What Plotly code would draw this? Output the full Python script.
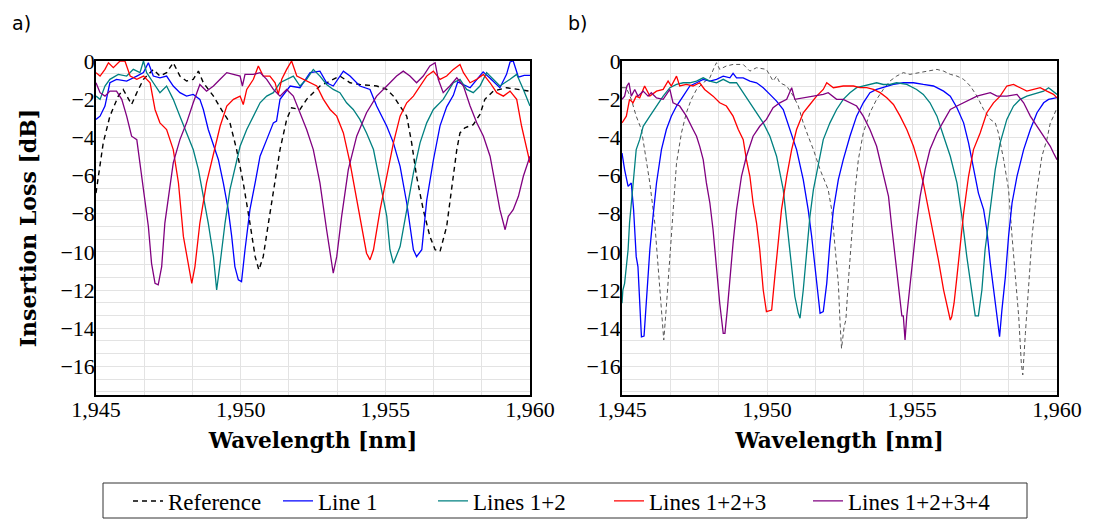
import plotly.graph_objects as go

# ---------------- Panel a) ----------------
a_ref_wl = [1945.00,1945.25,1945.48,1945.77,1945.94,1946.23,1946.41,1946.64,1946.98,1947.21,1947.44,1947.67,1947.90,1948.13,1948.36,1948.54,1948.71,1949.06,1949.40,1949.63,1949.86,1950.09,1950.32,1950.50,1950.63,1950.78,1950.96,1951.13,1951.36,1951.59,1951.76,1952.05,1952.28,1952.51,1952.74,1952.97,1953.43,1953.78,1954.12,1954.70,1955.05,1955.28,1955.51,1955.74,1955.91,1956.08,1956.31,1956.54,1956.72,1956.89,1957.12,1957.29,1957.47,1957.58,1957.75,1958.04,1958.27,1958.44,1958.73,1959.19,1959.54,1960.00]
a_ref_il = [-6.92,-4.29,-2.89,-1.84,-1.49,-2.28,-1.66,-0.96,-0.44,-0.79,-0.61,-0.09,-0.79,-1.05,-0.96,-0.53,-1.14,-1.84,-2.71,-3.24,-4.64,-6.39,-8.49,-10.25,-10.95,-10.25,-8.49,-6.74,-4.64,-3.06,-2.45,-2.54,-2.01,-1.66,-1.31,-1.14,-0.79,-1.14,-1.23,-1.31,-1.49,-1.84,-2.36,-2.89,-4.29,-6.04,-7.79,-9.19,-9.89,-9.98,-8.67,-6.74,-4.64,-3.77,-3.50,-3.33,-2.80,-2.01,-1.58,-1.40,-1.49,-1.58]

a_l1_wl = [1945.00,1945.14,1945.31,1945.48,1945.71,1946.06,1946.41,1946.64,1946.81,1946.98,1947.21,1947.44,1947.67,1947.90,1948.13,1948.36,1948.59,1948.71,1948.88,1949.06,1949.23,1949.40,1949.57,1949.69,1949.80,1949.92,1950.03,1950.15,1950.32,1950.50,1950.67,1950.90,1951.13,1951.24,1951.30,1951.36,1951.71,1952.05,1952.40,1952.74,1952.97,1953.20,1953.55,1953.78,1954.12,1954.47,1954.70,1955.05,1955.28,1955.51,1955.74,1955.97,1956.08,1956.26,1956.43,1956.66,1956.89,1957.12,1957.35,1957.50,1957.93,1958.38,1958.62,1958.96,1959.19,1959.31,1959.42,1959.60,1959.80,1960.00]
a_l1_il = [-3.06,-2.89,-2.36,-1.14,-0.96,-1.05,-0.79,-0.61,-0.09,-0.79,-0.88,-0.79,-1.31,-1.66,-1.84,-1.75,-2.01,-2.54,-3.59,-4.47,-5.17,-6.39,-7.79,-9.19,-10.77,-11.47,-11.56,-9.89,-7.79,-6.39,-4.99,-4.12,-3.24,-3.15,-2.54,-2.01,-1.31,-1.40,-0.61,-0.53,-1.14,-1.31,-0.53,-0.79,-1.31,-1.49,-2.36,-3.42,-4.29,-5.52,-7.44,-9.89,-10.25,-9.89,-7.30,-5.20,-3.40,-2.40,-1.80,-1.10,-1.40,-0.57,-0.90,-1.40,-0.70,-0.05,0.00,-0.85,-0.75,-0.75]

a_l12_wl = [1945.00,1945.14,1945.31,1945.48,1945.77,1946.06,1946.29,1946.52,1946.64,1946.75,1946.98,1947.21,1947.44,1947.67,1947.90,1948.13,1948.36,1948.54,1948.71,1948.88,1949.06,1949.17,1949.29,1949.46,1949.63,1949.80,1949.98,1950.21,1950.44,1950.67,1950.90,1951.13,1951.36,1951.59,1951.82,1952.05,1952.28,1952.51,1952.74,1952.97,1953.20,1953.43,1953.66,1953.89,1954.12,1954.35,1954.59,1954.82,1955.05,1955.16,1955.28,1955.51,1955.74,1955.97,1956.20,1956.43,1956.66,1957.00,1957.35,1957.58,1957.81,1958.04,1958.27,1958.50,1958.73,1958.96,1959.31,1959.54,1959.77,1960.00]
a_l12_il = [-1.84,-2.01,-1.31,-0.96,-0.70,-0.79,-0.44,-0.61,0.00,-0.61,-1.14,-1.66,-1.31,-2.01,-2.89,-3.77,-4.64,-5.69,-7.09,-8.49,-10.25,-12.00,-10.60,-8.49,-6.74,-5.69,-4.47,-3.59,-2.89,-2.19,-1.84,-1.66,-1.14,-0.96,-0.79,-1.31,-0.96,-0.44,-0.79,-1.23,-1.49,-1.66,-2.19,-2.54,-3.06,-3.77,-4.64,-6.39,-8.14,-9.89,-10.60,-9.72,-7.79,-5.87,-4.29,-3.24,-2.54,-2.01,-1.14,-0.96,-1.49,-1.66,-1.31,-0.61,-0.96,-1.31,-0.96,-0.70,-1.49,-2.36]

a_l123_wl = [1945.00,1945.14,1945.31,1945.43,1945.60,1945.83,1946.00,1946.18,1946.41,1946.64,1946.87,1947.04,1947.21,1947.44,1947.67,1947.85,1948.02,1948.19,1948.31,1948.42,1948.59,1948.82,1949.06,1949.29,1949.52,1949.75,1949.98,1950.09,1950.21,1950.44,1950.61,1950.78,1951.01,1951.19,1951.30,1951.42,1951.59,1951.76,1951.94,1952.17,1952.40,1952.63,1952.86,1953.09,1953.32,1953.55,1953.78,1954.01,1954.18,1954.35,1954.47,1954.59,1954.82,1955.05,1955.28,1955.51,1955.74,1955.97,1956.20,1956.43,1956.66,1956.89,1957.12,1957.35,1957.58,1957.70,1957.93,1958.16,1958.39,1958.62,1958.85,1959.08,1959.31,1959.54,1959.71,1959.88,1960.00]
a_l123_il = [-0.61,-0.79,-0.44,-0.09,-0.35,0.00,0.00,-0.79,-0.96,-0.79,-1.14,-2.54,-3.24,-3.59,-4.64,-6.39,-9.19,-10.60,-11.65,-10.77,-8.49,-6.39,-4.82,-3.42,-2.36,-2.01,-1.84,-2.28,-1.49,-0.96,-0.26,-0.79,-0.79,-1.14,-1.75,-0.96,-0.44,0.00,-0.79,-0.96,-1.14,-1.31,-2.01,-2.54,-2.89,-3.77,-5.34,-7.27,-8.67,-10.07,-10.42,-9.89,-7.79,-6.04,-4.29,-2.89,-2.19,-1.84,-1.31,-0.79,-0.53,-0.96,-0.79,-0.44,-0.18,-0.61,-1.14,-0.96,-0.70,-1.14,-1.66,-1.84,-1.58,-2.01,-3.42,-4.47,-5.34]

a_l1234_wl = [1945.00,1945.14,1945.31,1945.48,1945.71,1945.89,1946.06,1946.23,1946.41,1946.52,1946.64,1946.81,1946.92,1947.04,1947.15,1947.27,1947.38,1947.50,1947.67,1947.90,1948.13,1948.36,1948.59,1948.82,1949.06,1949.29,1949.52,1949.75,1949.98,1950.06,1950.15,1950.44,1950.67,1950.90,1951.13,1951.36,1951.59,1951.82,1952.05,1952.28,1952.51,1952.74,1952.97,1953.15,1953.20,1953.32,1953.49,1953.72,1954.01,1954.35,1954.70,1955.05,1955.39,1955.62,1955.85,1956.08,1956.31,1956.54,1956.72,1956.83,1957.00,1957.23,1957.47,1957.70,1957.93,1958.16,1958.39,1958.62,1958.79,1958.96,1959.14,1959.25,1959.42,1959.60,1959.77,1960.00]
a_l1234_il = [-1.14,-1.66,-1.84,-1.58,-1.58,-2.01,-2.89,-3.94,-4.12,-5.34,-6.74,-8.67,-10.60,-11.65,-11.73,-10.77,-8.49,-7.09,-5.34,-4.12,-3.24,-2.19,-1.23,-1.58,-1.31,-0.96,-0.61,-0.70,-0.79,-1.31,-0.70,-0.70,-0.61,-0.96,-1.49,-1.84,-1.49,-1.84,-2.71,-3.59,-4.64,-6.39,-8.84,-10.60,-11.12,-10.25,-8.14,-5.69,-3.94,-2.71,-1.84,-1.31,-0.79,-0.53,-0.79,-1.14,-0.79,-0.26,-0.09,-0.96,-1.66,-1.31,-0.88,-1.31,-2.36,-3.24,-3.94,-4.99,-6.39,-7.79,-8.84,-8.14,-7.79,-7.09,-6.04,-4.99]

# ---------------- Panel b) ----------------
b_ref_wl = [1945.00,1945.15,1945.32,1945.49,1945.67,1945.78,1945.96,1946.13,1946.24,1946.36,1946.44,1946.53,1946.65,1946.76,1946.88,1947.05,1947.22,1947.39,1947.57,1947.80,1948.03,1948.20,1948.26,1948.37,1948.60,1948.83,1949.18,1949.41,1949.64,1949.98,1950.21,1950.33,1950.44,1950.68,1950.91,1951.08,1951.25,1951.42,1951.60,1951.83,1952.00,1952.11,1952.23,1952.34,1952.46,1952.52,1952.57,1952.66,1952.72,1952.80,1952.92,1953.04,1953.15,1953.32,1953.55,1953.78,1954.01,1954.24,1954.47,1954.70,1954.93,1955.28,1955.51,1955.86,1956.09,1956.32,1956.55,1956.78,1957.01,1957.24,1957.47,1957.70,1957.87,1957.98,1958.16,1958.33,1958.45,1958.56,1958.68,1958.77,1958.82,1958.91,1959.02,1959.14,1959.31,1959.48,1959.65,1959.77,1959.88,1960.00]
b_ref_il = [-1.40,-1.40,-2.01,-2.89,-3.59,-4.64,-6.39,-8.49,-10.60,-12.87,-14.62,-12.87,-10.25,-7.79,-5.34,-3.77,-2.71,-2.01,-1.49,-1.14,-0.88,-0.26,-0.09,-0.44,-0.26,-0.18,-0.18,-0.53,-0.35,-0.44,-1.05,-0.79,-1.14,-1.31,-1.84,-2.36,-3.24,-3.94,-4.64,-5.69,-6.39,-6.74,-7.79,-9.54,-11.65,-13.75,-15.06,-13.92,-13.57,-11.65,-9.19,-6.74,-5.17,-3.77,-2.71,-2.01,-1.49,-1.05,-0.79,-0.61,-0.70,-0.61,-0.53,-0.44,-0.53,-0.70,-0.79,-0.96,-1.31,-1.84,-2.54,-3.06,-3.24,-3.77,-5.17,-6.74,-9.19,-11.30,-13.40,-15.85,-16.45,-14.27,-11.65,-9.19,-6.74,-4.99,-4.12,-3.24,-2.89,-2.45]

b_l1_wl = [1945.00,1945.09,1945.21,1945.32,1945.40,1945.46,1945.49,1945.55,1945.61,1945.67,1945.76,1945.84,1945.96,1946.07,1946.19,1946.36,1946.53,1946.70,1946.88,1947.11,1947.34,1947.57,1947.80,1948.03,1948.26,1948.49,1948.72,1948.83,1948.95,1949.18,1949.41,1949.64,1949.87,1950.10,1950.33,1950.56,1950.79,1951.02,1951.25,1951.42,1951.54,1951.65,1951.75,1951.83,1951.94,1952.06,1952.17,1952.29,1952.46,1952.63,1952.86,1953.09,1953.32,1953.55,1953.78,1954.01,1954.36,1954.70,1955.05,1955.39,1955.74,1956.09,1956.32,1956.55,1956.78,1956.95,1957.12,1957.29,1957.47,1957.58,1957.70,1957.87,1957.95,1958.02,1958.10,1958.22,1958.33,1958.45,1958.62,1958.85,1959.08,1959.31,1959.54,1959.71,1960.00]
b_l1_il = [-4.82,-5.69,-6.57,-6.39,-7.79,-9.37,-10.25,-10.77,-12.69,-14.45,-14.41,-12.69,-9.89,-8.14,-6.39,-4.64,-3.59,-2.89,-2.36,-1.84,-1.31,-1.14,-0.96,-1.05,-0.96,-0.79,-0.88,-0.65,-0.88,-0.88,-1.05,-1.14,-1.40,-1.75,-2.10,-2.54,-3.59,-4.64,-6.22,-7.79,-9.19,-10.77,-12.17,-13.22,-13.13,-11.65,-9.54,-7.79,-6.22,-5.17,-3.94,-2.89,-2.19,-1.66,-1.49,-1.40,-1.23,-1.14,-1.14,-1.23,-1.31,-1.58,-1.84,-2.45,-3.24,-4.29,-5.69,-6.92,-7.79,-8.84,-10.60,-12.69,-13.40,-14.45,-13.05,-11.30,-9.19,-7.44,-6.04,-4.64,-3.59,-2.71,-2.19,-2.01,-1.92]

b_l12_wl = [1945.00,1945.03,1945.09,1945.15,1945.21,1945.26,1945.38,1945.49,1945.61,1945.73,1945.96,1946.19,1946.42,1946.65,1946.88,1947.11,1947.34,1947.57,1947.80,1948.03,1948.26,1948.49,1948.72,1948.95,1949.18,1949.41,1949.64,1949.87,1950.10,1950.33,1950.56,1950.73,1950.85,1950.96,1951.08,1951.14,1951.25,1951.37,1951.48,1951.60,1951.77,1951.94,1952.17,1952.40,1952.63,1952.86,1953.09,1953.32,1953.55,1953.78,1954.01,1954.24,1954.47,1954.82,1955.16,1955.39,1955.62,1955.86,1956.09,1956.32,1956.55,1956.72,1956.89,1957.06,1957.18,1957.29,1957.41,1957.52,1957.70,1957.87,1958.04,1958.27,1958.50,1958.73,1958.96,1959.31,1959.54,1959.71,1959.88,1960.00]
b_l12_il = [-12.69,-12.00,-11.65,-10.77,-9.89,-8.49,-6.39,-4.64,-4.12,-3.42,-2.89,-2.36,-1.84,-1.40,-1.23,-1.14,-1.14,-1.05,-0.88,-1.05,-1.14,-0.96,-1.14,-1.14,-1.66,-2.19,-2.71,-3.24,-3.94,-4.99,-6.74,-9.02,-10.77,-12.34,-13.22,-13.48,-12.00,-9.89,-8.14,-6.74,-5.34,-4.12,-3.24,-2.54,-2.01,-1.66,-1.40,-1.31,-1.23,-1.14,-1.23,-1.23,-1.14,-1.23,-1.49,-1.75,-2.19,-2.89,-3.94,-4.99,-6.39,-8.14,-10.25,-12.00,-13.35,-13.35,-12.00,-9.89,-7.79,-5.69,-4.29,-3.06,-2.36,-2.01,-1.84,-1.66,-1.58,-1.40,-1.58,-1.75]

b_l123_wl = [1945.00,1945.15,1945.26,1945.38,1945.49,1945.61,1945.78,1945.96,1946.19,1946.42,1946.59,1946.70,1946.88,1946.99,1947.22,1947.45,1947.68,1947.85,1948.14,1948.37,1948.60,1948.83,1949.01,1949.18,1949.29,1949.41,1949.52,1949.64,1949.75,1949.87,1949.98,1950.16,1950.27,1950.39,1950.50,1950.68,1950.85,1951.02,1951.25,1951.48,1951.71,1951.94,1952.06,1952.29,1952.63,1952.98,1953.21,1953.44,1953.67,1953.90,1954.13,1954.36,1954.59,1954.82,1955.05,1955.22,1955.39,1955.57,1955.74,1955.91,1956.09,1956.20,1956.32,1956.37,1956.45,1956.55,1956.66,1956.78,1956.95,1957.12,1957.35,1957.58,1957.81,1958.04,1958.27,1958.50,1958.73,1958.96,1959.19,1959.42,1959.65,1959.88,1960.00]
b_l123_il = [-3.24,-2.89,-2.01,-2.19,-1.84,-1.93,-1.31,-1.84,-1.58,-1.49,-1.05,-1.31,-0.79,-1.31,-1.23,-1.31,-1.14,-1.49,-1.84,-2.19,-2.36,-2.89,-3.59,-4.12,-5.17,-6.04,-7.44,-8.49,-9.89,-12.00,-13.13,-13.05,-11.30,-9.54,-7.79,-6.04,-4.64,-3.59,-2.71,-2.28,-1.84,-1.49,-1.14,-1.40,-1.31,-1.31,-1.40,-1.40,-1.49,-1.66,-1.93,-2.28,-2.89,-3.59,-4.47,-5.34,-6.39,-7.79,-9.02,-10.42,-12.00,-12.69,-13.57,-13.40,-12.69,-11.30,-9.72,-7.97,-6.04,-4.64,-3.77,-2.71,-2.19,-1.84,-1.31,-1.23,-1.40,-1.58,-1.49,-1.40,-1.58,-1.75,-1.93]

b_l1234_wl = [1945.00,1945.09,1945.17,1945.24,1945.32,1945.44,1945.55,1945.73,1945.90,1946.01,1946.19,1946.42,1946.65,1946.76,1946.99,1947.22,1947.45,1947.57,1947.68,1947.80,1947.91,1948.03,1948.14,1948.26,1948.37,1948.49,1948.55,1948.63,1948.72,1948.83,1948.95,1949.12,1949.29,1949.52,1949.75,1949.98,1950.21,1950.44,1950.68,1950.85,1950.96,1951.25,1951.60,1951.94,1952.11,1952.40,1952.63,1952.86,1953.09,1953.32,1953.55,1953.78,1954.01,1954.19,1954.30,1954.42,1954.53,1954.65,1954.70,1954.76,1954.82,1954.91,1955.05,1955.16,1955.28,1955.45,1955.62,1955.86,1956.09,1956.32,1956.55,1956.78,1957.01,1957.24,1957.47,1957.70,1957.93,1958.27,1958.62,1958.85,1959.08,1959.31,1959.54,1959.77,1959.88,1960.00]
b_l1234_il = [-2.01,-1.84,-1.31,-1.14,-1.84,-1.49,-1.84,-1.58,-1.84,-1.66,-1.93,-2.01,-1.49,-2.19,-2.36,-2.89,-3.59,-3.94,-4.47,-5.17,-6.39,-7.44,-8.84,-10.95,-12.69,-14.27,-14.27,-13.05,-11.30,-9.54,-7.79,-6.04,-4.99,-3.94,-3.42,-3.06,-2.45,-2.19,-2.01,-1.40,-2.01,-1.93,-1.84,-1.75,-1.66,-2.01,-2.01,-2.19,-2.36,-2.89,-3.59,-4.47,-5.87,-7.09,-8.67,-10.25,-12.00,-13.35,-13.35,-14.62,-13.35,-12.00,-9.89,-8.49,-7.09,-5.69,-4.64,-3.77,-3.15,-2.54,-2.36,-2.19,-2.01,-1.84,-1.75,-1.66,-1.84,-1.84,-1.75,-2.19,-2.89,-3.42,-3.94,-4.47,-4.82,-5.17]

series_names = ["Reference", "Line 1", "Lines 1+2", "Lines 1+2+3", "Lines 1+2+3+4"]
series_colors = ["black", "#0000ff", "#008080", "#ff0000", "#800080"]
x_ticks = [1945, 1950, 1955, 1960]
y_ticks = [0, -2, -4, -6, -8, -10, -12, -14, -16]

panel_a = [(a_ref_wl, a_ref_il), (a_l1_wl, a_l1_il), (a_l12_wl, a_l12_il),
           (a_l123_wl, a_l123_il), (a_l1234_wl, a_l1234_il)]
panel_b = [(b_ref_wl, b_ref_il), (b_l1_wl, b_l1_il), (b_l12_wl, b_l12_il),
           (b_l123_wl, b_l123_il), (b_l1234_wl, b_l1234_il)]

SERIF = "Liberation Serif"
TITLE_FONT = "DejaVu Serif"

# plot area in pixels: x 96..1057, y 61..395
ML, MR, MT, MB = 96, 36, 61, 126
PW = 1093 - ML - MR
PH = 521 - MT - MB

def px_x(p):
    return (p - ML) / PW

def px_y(p):
    return (521 - MB - p) / PH

legend_ids = ["legend", "legend2", "legend3", "legend4", "legend5"]
legend_text_x = [170, 320, 475, 651, 850]   # left edge of each legend label (px)

fig = go.Figure()

for i, (name, col) in enumerate(zip(series_names, series_colors)):
    wl, il = panel_a[i]
    if i == 0:
        line = dict(color="black", width=1.4, dash="5px,4px")
    else:
        line = dict(color=col, width=1.3)
    fig.add_trace(go.Scatter(x=wl, y=il, mode="lines", name=name, line=line,
                             legendgroup=name, showlegend=True,
                             legend=legend_ids[i],
                             xaxis="x", yaxis="y"))
for i, (name, col) in enumerate(zip(series_names, series_colors)):
    wl, il = panel_b[i]
    if i == 0:
        line = dict(color="#555555", width=1.0, dash="4px,3px")
    else:
        line = dict(color=col, width=1.3)
    fig.add_trace(go.Scatter(x=wl, y=il, mode="lines", name=name, line=line,
                             legendgroup=name, showlegend=False,
                             xaxis="x2", yaxis="y2"))

grid_col = "#e3e3e3"

def xax(domain, anchor):
    return dict(domain=domain, anchor=anchor, range=[1945, 1960],
                tickmode="array", tickvals=x_ticks,
                ticktext=[f"{v:,}" for v in x_ticks],
                showgrid=True, gridcolor=grid_col, gridwidth=1,
                minor=dict(dtick=5/3, tick0=1945, showgrid=True,
                           gridcolor=grid_col, gridwidth=1),
                showline=True, linecolor="black", linewidth=1.5, mirror=True,
                ticks="", zeroline=False, automargin=False,
                ticklabelstandoff=-6,
                tickfont=dict(family=SERIF, size=22, color="black"),
                title=dict(text="<b>Wavelength [nm]</b>", standoff=12,
                           font=dict(family=TITLE_FONT, size=21.7, color="black")))

def yax(domain, anchor, title):
    d = dict(domain=domain, anchor=anchor, range=[-17.5, 0],
             tickmode="array", tickvals=y_ticks,
             ticktext=[("\u2212" + str(-v)) if v < 0 else str(v) for v in y_ticks],
             showgrid=True, gridcolor=grid_col, gridwidth=1,
             minor=dict(dtick=2/3, tick0=0, showgrid=True,
                        gridcolor=grid_col, gridwidth=1),
             showline=True, linecolor="black", linewidth=1.5, mirror=True,
             ticks="", zeroline=False, automargin=False,
             ticklabelstandoff=-5,
             tickfont=dict(family=SERIF, size=22, color="black"))
    if title:
        d["title"] = dict(text="<b>Insertion Loss [dB]</b>", standoff=18,
                          font=dict(family=TITLE_FONT, size=22, color="black"))
    return d

legend_common = dict(orientation="h", xanchor="left", yanchor="middle",
                     y=px_y(501), bgcolor="rgba(0,0,0,0)", borderwidth=0,
                     font=dict(family=SERIF, size=23, color="black"),
                     itemwidth=30, tracegroupgap=0)

layout_legends = {}
for lid, tx in zip(legend_ids, legend_text_x):
    d = dict(legend_common)
    d["x"] = px_x(tx - 42)
    layout_legends[lid] = d

fig.update_layout(
    width=1093, height=521,
    margin=dict(l=ML, r=MR, t=MT, b=MB, autoexpand=False),
    font=dict(family=SERIF, color="black"),
    paper_bgcolor="white", plot_bgcolor="white",
    xaxis=xax([0, px_x(530)], "y"),
    yaxis=yax([0, 1], "x", True),
    xaxis2=xax([px_x(622), 1], "y2"),
    yaxis2=yax([0, 1], "x2", False),
    showlegend=True,
    shapes=[dict(type="rect", xref="paper", yref="paper",
                 x0=px_x(103), x1=px_x(1027), y0=px_y(483), y1=px_y(518),
                 line=dict(color="#333333", width=1), fillcolor="rgba(0,0,0,0)",
                 layer="above")],
    annotations=[
        dict(text="a)", x=px_x(10), y=px_y(10), xref="paper", yref="paper",
             xanchor="left", yanchor="top", showarrow=False,
             font=dict(family="DejaVu Sans", size=19, color="black")),
        dict(text="b)", x=px_x(566), y=px_y(10), xref="paper", yref="paper",
             xanchor="left", yanchor="top", showarrow=False,
             font=dict(family="DejaVu Sans", size=19, color="black")),
    ],
    **layout_legends,
)

fig.write_html("out.html")
